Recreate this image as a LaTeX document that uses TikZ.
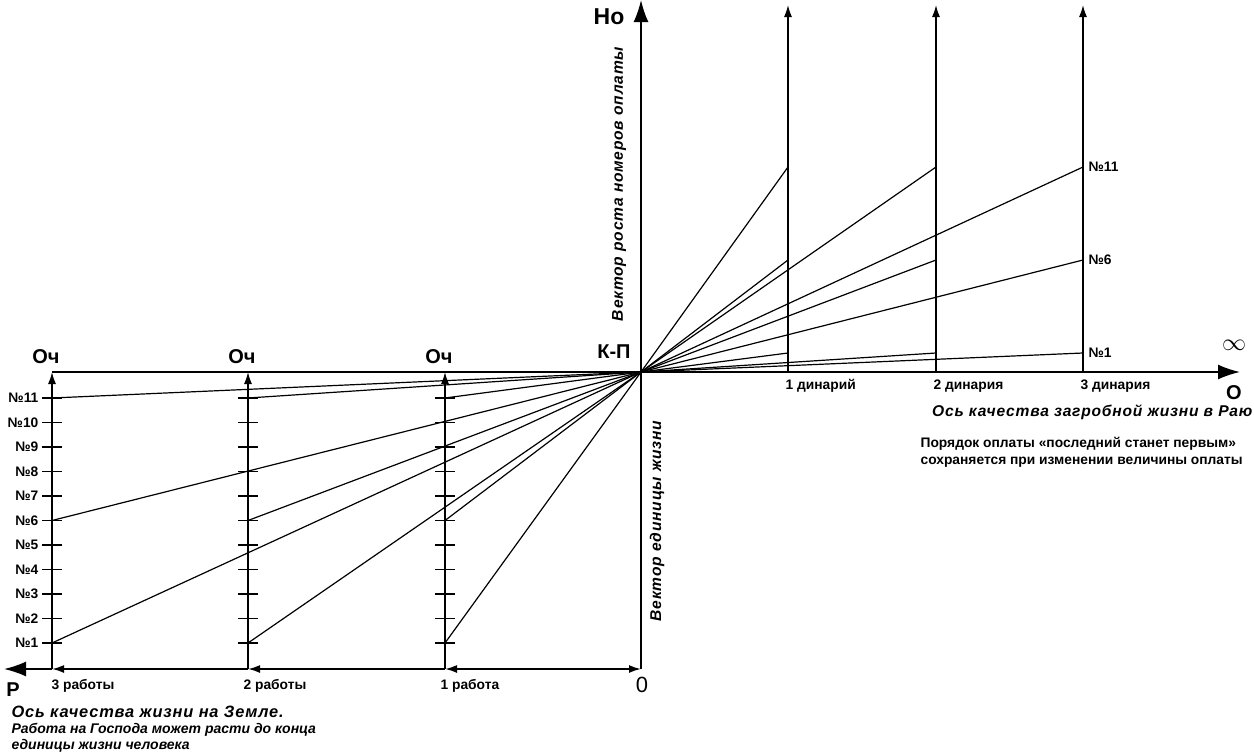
\documentclass[tikz,border=0pt]{standalone}
\usepackage{fontspec}
\setmainfont{Liberation Sans}
\newfontfamily\weit[LetterSpace=5]{Liberation Sans}
\usetikzlibrary{arrows.meta}

\def\ox{641}
\def\oy{372}
\def\st{24.5}
\def\fs#1{\fontsize{#1}{#1}\selectfont}

\begin{document}
\begin{tikzpicture}[x=0.5pt,y=-0.5pt,line width=0.6pt,>={Latex[length=6pt,width=4pt]},
	big/.style={-{Latex[length=11pt,width=7.5pt]},line width=0.9pt},
	numlab/.style={font=\bfseries\fs{6.9},inner sep=0pt},
	headlab/.style={font=\bfseries\fs{10},inner sep=0pt},
	caplab/.style={font=\weit\bfseries\itshape\fs{7.8},inner sep=0pt},
	note/.style={font=\bfseries\itshape\fs{7},inner sep=0pt,anchor=west}]
\useasboundingbox (0,0) rectangle (1254,755);

\coordinate (KP) at (\ox,\oy);
\coordinate (No) at (\ox,0);
\coordinate (O) at (1240,\oy);
\coordinate (Z) at (\ox,669);
\coordinate (P) at (4,669);
\coordinate (L) at (52,\oy);

\draw[line width=0.9pt] (Z) -- (KP);
\draw[big] (KP) -- (No);
\draw[big] (L) -- (O);

\foreach \i/\x in {1/445,2/248,3/52}{
	\coordinate (b\i) at (\x,669);
	\coordinate (t\i) at (\x,\oy);
	\draw[->,line width=0.75pt] (b\i) -- (t\i);
	\node[headlab] (och\i) at (\x-6,357) {Оч};
	\foreach \k/\w in {1/0.6,2/0.9,3/0.6,4/0.6,5/0.6,6/0.6,7/0.9,8/0.6,9/0.9,10/0.6,11/0.6}{
		\draw[line width=\w pt] ({\x-10},{643-(\k-1)*\st}) -- ++(20,0);
	}
	\foreach \k in {1,6,11}{
		\coordinate (c\i-\k) at (\x,{643-(\k-1)*\st});
		\draw (KP) -- (c\i-\k);
	}
}
\foreach \k in {1,...,11}{
	\node[numlab,anchor=east] (n\k) at (39,{643-(\k-1)*\st}) {№\k};
}

\foreach \j/\x/\t in {1/788/1 динарий,2/936/2 динария,3/1083/3 динария}{
	\coordinate (r\j) at (\x,\oy);
	\coordinate (u\j) at (\x,5);
	\draw[->,line width=0.75pt] (r\j) -- (u\j);
	\node[numlab,anchor=west] (den\j) at (\x-3,386) {\t};
	\foreach \k/\y in {1/353,6/260,11/167}{
		\coordinate (d\j-\k) at (\x,\y);
		\draw (KP) -- (d\j-\k);
	}
}
\foreach \k/\y in {1/353,6/260,11/167}{
	\node[numlab,anchor=west] (m\k) at (1088,\y) {№\k};
}

\draw[<->,line width=0.9pt] (b1) -- (Z);
\draw[->,line width=0.9pt] (b1) -- (b2);
\draw[->,line width=0.9pt] (b2) -- (b3);
\draw[big] (b3) -- (P);

\node[numlab,anchor=west] (w3) at (51,686) {3 работы};
\node[numlab,anchor=west] (w2) at (243,686) {2 работы};
\node[numlab,anchor=west] (w1) at (440,686) {1 работа};

\node[headlab,font=\bfseries\fs{11.5}] (lNo) at (609,17) {Но};
\node[headlab] (lKP) at (614,352) {К-П};
\node[headlab] (lO) at (1234,393) {О};
\node[headlab] (lP) at (13,690) {Р};
\node[font=\fs{11},inner sep=0pt] (l0) at (642,685) {0};
\node[font=\fs{13},inner sep=0pt] (inf) at (1234,345) {$\infty$};

\node[caplab,rotate=90] (vr) at (619,184) {Вектор роста номеров оплаты};
\node[caplab,rotate=90] (ve) at (657,521) {Вектор единицы жизни};
\node[caplab,anchor=east] (rai) at (1253,412) {Ось качества загробной жизни в Раю};
\node[numlab,anchor=west] (por1) at (920,444) {Порядок оплаты «последний станет первым»};
\node[numlab,anchor=west] (por2) at (920,462) {сохраняется при изменении величины оплаты};
\node[caplab,anchor=west,font=\weit\bfseries\itshape\fs{8.2}] (zem) at (11,712) {Ось качества жизни на Земле.};
\node[note] (rab1) at (11,730) {Работа на Господа может расти до конца};
\node[note] (rab2) at (11,746) {единицы жизни человека};
\end{tikzpicture}
\end{document}
